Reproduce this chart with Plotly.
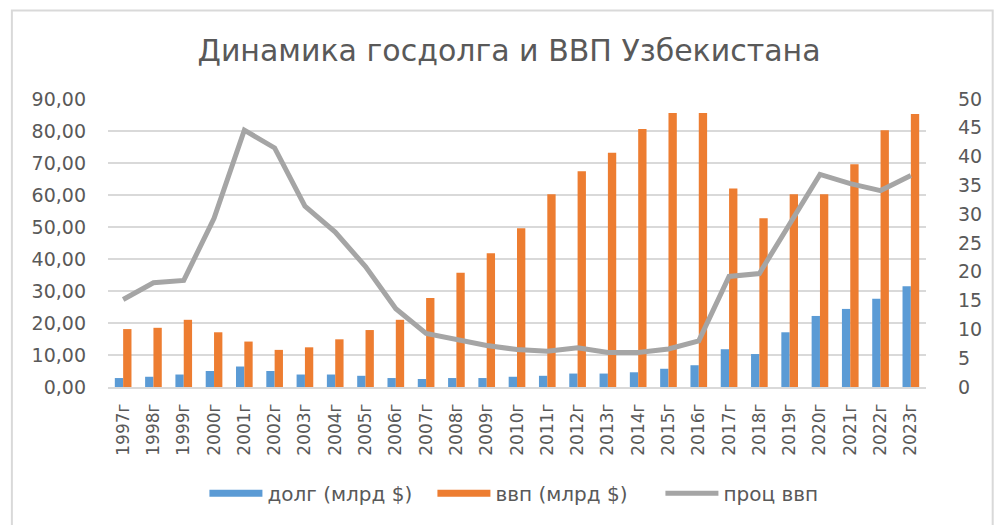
import plotly.graph_objects as go

years = ["1997г", "1998г", "1999г", "2000г", "2001г", "2002г", "2003г", "2004г", "2005г",
         "2006г", "2007г", "2008г", "2009г", "2010г", "2011г", "2012г", "2013г", "2014г",
         "2015г", "2016г", "2017г", "2018г", "2019г", "2020г", "2021г", "2022г", "2023г"]
debt = [2.8, 3.2, 3.9, 5.0, 6.4, 5.0, 3.9, 3.9, 3.5, 2.8, 2.5, 2.8, 2.8, 3.2,
        3.5, 4.2, 4.2, 4.6, 5.7, 6.8, 11.8, 10.3, 17.1, 22.2, 24.4, 27.6, 31.5]
gdp = [18.1, 18.5, 21.0, 17.1, 14.2, 11.6, 12.4, 14.9, 17.8, 21.0, 27.8, 35.7, 41.8, 49.6,
       60.2, 67.4, 73.2, 80.6, 85.6, 85.6, 62.0, 52.7, 60.2, 60.2, 69.6, 80.2, 85.3]
pct = [15.2, 18.1, 18.5, 29.3, 44.6, 41.5, 31.4, 26.9, 20.9, 13.6, 9.3, 8.2, 7.2, 6.5,
       6.2, 6.8, 6.0, 6.0, 6.6, 8.0, 19.2, 19.7, 28.3, 36.9, 35.3, 34.1, 36.7]
left_ticks = [0, 10, 20, 30, 40, 50, 60, 70, 80, 90]
left_labels = ["0,00", "10,00", "20,00", "30,00", "40,00", "50,00", "60,00", "70,00", "80,00", "90,00"]
right_ticks = [0, 5, 10, 15, 20, 25, 30, 35, 40, 45, 50]

FONT = "DejaVu Sans"
GREY = "#595959"
BLUE, ORANGE, LGREY = "#5b9bd5", "#ed7d31", "#a5a5a5"
W, H = 994, 525
ML, MR, MT, MB = 108, 52, 99, 136
PW, PH = W - ML - MR, H - MT - MB

fig = go.Figure()
fig.add_trace(go.Bar(x=years, y=debt, name="долг (млрд $)", marker=dict(color=BLUE, line=dict(width=0)),
                     showlegend=False, legendgroup="debt"))
fig.add_trace(go.Bar(x=years, y=gdp, name="ввп (млрд $)", marker=dict(color=ORANGE, line=dict(width=0)),
                     showlegend=False, legendgroup="gdp"))
fig.add_trace(go.Scatter(x=years, y=pct, name="проц ввп", yaxis="y2", mode="lines",
                         line=dict(color=LGREY, width=5), showlegend=False, legendgroup="pct"))
# legend entries (wide flat swatches like the original)
fig.add_trace(go.Scatter(x=[None], y=[None], mode="lines", name="долг (млрд $)",
                         line=dict(color=BLUE, width=7), legendgroup="debt"))
fig.add_trace(go.Scatter(x=[None], y=[None], mode="lines", name="ввп (млрд $)",
                         line=dict(color=ORANGE, width=7), legendgroup="gdp"))
fig.add_trace(go.Scatter(x=[None], y=[None], mode="lines", name="проц ввп",
                         line=dict(color=LGREY, width=5), legendgroup="pct"))

# outer frame of the chart area
fig.add_shape(type="rect", xref="paper", yref="paper",
              x0=(10 - ML) / PW, x1=(1010 - ML) / PW,
              y0=(H - 540 - MB) / PH, y1=(H - 10 - MB) / PH,
              line=dict(color="#d9d9d9", width=2), fillcolor="rgba(0,0,0,0)", layer="below")

fig.update_layout(
    width=W, height=H,
    margin=dict(l=ML, r=MR, t=MT, b=MB),
    paper_bgcolor="white", plot_bgcolor="white",
    title=dict(text="Динамика госдолга и ВВП Узбекистана", x=509 / W, xanchor="center",
               y=1 - 50 / H, yanchor="middle",
               font=dict(family=FONT, size=30, color=GREY)),
    barmode="group", bargap=0.45, bargroupgap=0.0,
    font=dict(family=FONT, color=GREY),
    xaxis=dict(tickangle=-90, tickfont=dict(size=17, color=GREY), showgrid=False,
               showline=True, linecolor="#d9d9d9", linewidth=1.5, ticks="", ticklabelstandoff=8),
    yaxis=dict(range=[0, 90], tickvals=left_ticks, ticktext=left_labels,
               tickfont=dict(size=19, color=GREY), showgrid=True, gridcolor="#d9d9d9",
               gridwidth=1.5, zeroline=False, ticks="", ticklabelstandoff=21),
    yaxis2=dict(range=[0, 50], tickvals=right_ticks, overlaying="y", side="right",
                tickfont=dict(size=19, color=GREY), showgrid=False, zeroline=False, ticks="",
                ticklabelstandoff=31),
    legend=dict(orientation="h", x=(555 - ML) / PW, xanchor="center",
                y=-(496 - MT - PH) / PH, yanchor="middle",
                font=dict(size=20, color=GREY), traceorder="normal",
                entrywidth=160, entrywidthmode="pixels", itemwidth=53),
)

fig.write_html("out.html", post_script="document.body.style.margin='0';",
               config={"displayModeBar": False})
